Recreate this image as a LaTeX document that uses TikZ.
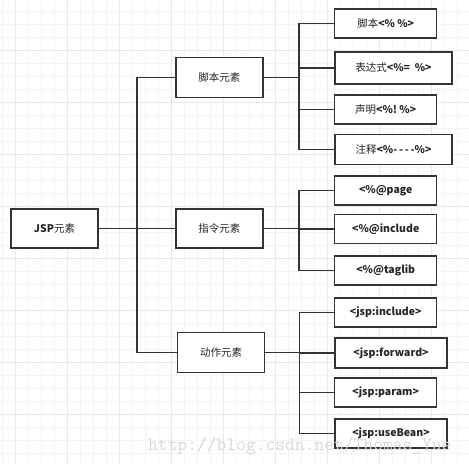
\documentclass[tikz,border=0pt]{standalone}
\usepackage{fontspec}
\setmainfont{Noto Sans CJK SC}
\definecolor{gridminor}{HTML}{F4F4F4}
\definecolor{gridmajor}{HTML}{E8E8E8}
\definecolor{ink}{HTML}{333333}
\definecolor{wmark}{HTML}{D8D8D8}
\begin{document}
\begin{tikzpicture}[x=1pt,y=-1pt,
  box/.style={draw=ink,line width=1.5pt,fill=white,inner sep=0pt,font=\fontsize{10.5}{12}\selectfont,text=black!85},
  conn/.style={draw=ink,line width=1.4pt},
  minorline/.style={draw=gridminor,line width=1pt},
  majorline/.style={draw=gridmajor,line width=1pt}]
\useasboundingbox (0,0) rectangle (469,464);
\fill[white] (0,0) rectangle (469,464);
% grid
\foreach \i in {0,...,36} {\draw[minorline] ({2.7+13*\i},0) -- ({2.7+13*\i},464);}
\foreach \i in {0,...,36} {\draw[minorline] (0,{11.7+13*\i}) -- (469,{11.7+13*\i});}
\foreach \i in {0,...,9} {\draw[majorline] ({15.7+52*\i},0) -- ({15.7+52*\i},464);}
\foreach \i in {0,...,9} {\draw[majorline] (0,{-1.3+52*\i}) -- (469,{-1.3+52*\i});}
% nodes
\node[box,minimum width=87pt,minimum height=39pt] (jsp) at (54.5,228.5) {\bfseries JSP\mdseries 元素};
\node[box,minimum width=87pt,minimum height=40pt] (s1) at (219.3,77.5) {脚本元素};
\node[box,minimum width=87pt,minimum height=39pt] (s2) at (219.3,228.5) {指令元素};
\node[box,minimum width=87pt,minimum height=40pt] (s3) at (221.2,352.5) {动作元素};
\node[box,minimum width=102pt,minimum height=29pt] (a1) at (385.7,23.7) {脚本\bfseries <\% \%>};
\node[box,minimum width=117pt,minimum height=32pt] (a2) at (393.5,67.8) {表达式\bfseries <\%=~~\%>};
\node[box,minimum width=102pt,minimum height=29pt] (a3) at (385.7,109.3) {声明\bfseries <\%!~\%>};
\node[box,minimum width=117pt,minimum height=30pt] (a4) at (393.5,149.5) {注释\bfseries <\%-\,-\,-\,-\%>};
\node[box,minimum width=102pt,minimum height=29pt] (b1) at (385.7,190.3) {\bfseries <\%@page};
\node[box,minimum width=102pt,minimum height=29pt] (b2) at (385.7,229) {\bfseries <\%@include};
\node[box,minimum width=102pt,minimum height=29pt] (b3) at (385.7,270.7) {\bfseries <\%@taglib};
\node[box,minimum width=102pt,minimum height=29pt] (c1) at (385.7,312.5) {\bfseries <jsp:include>};
\node[box,minimum width=112pt,minimum height=30pt] (c2) at (391,352.8) {\bfseries <jsp:forward>};
\node[box,minimum width=102pt,minimum height=29pt] (c3) at (385.7,392.3) {\bfseries <jsp:param>};
\node[box,minimum width=112pt,minimum height=29pt] (c4) at (391,433.3) {\bfseries <jsp:useBean>};
% trunks
\coordinate (k0) at (136.8,0);
\coordinate (k1) at (299,0);
\coordinate (k2) at (299.7,0);
% connectors
\draw[conn,line width=1.8pt] (jsp.east) -- (s2.west);
\draw[conn] (s1.west) -- (s1.west -| k0) -- (s3.west -| k0) -- (s3.west);
\draw[conn] (s1.east) -- (s1.east -| k1);
\draw[conn] (a1.west) -- (a1.west -| k1) -- (a4.west -| k1) -- (a4.west);
\draw[conn] (a2.west) -- (a2.west -| k1);
\draw[conn] (a3.west) -- (a3.west -| k1);
\draw[conn] (s2.east) -- (s2.east -| k1);
\draw[conn] (b1.west) -- (b1.west -| k1) -- (b3.west -| k1) -- (b3.west);
\draw[conn] (b2.west) -- (b2.west -| k1);
\draw[conn] (s3.east) -- (s3.east -| k2);
\draw[conn] (c1.west) -- (c1.west -| k2) -- (c4.west -| k2) -- (c4.west);
\draw[conn] (c2.west) -- (c2.west -| k2);
\draw[conn] (c3.west) -- (c3.west -| k2);
% watermark
\node[anchor=base west,inner sep=0pt,text=wmark,font=\ttfamily\fontsize{19}{21}\selectfont] (wm) at (148,450) {http://blog.csdn.net/Thomas\_Yue};
\end{tikzpicture}
\end{document}
